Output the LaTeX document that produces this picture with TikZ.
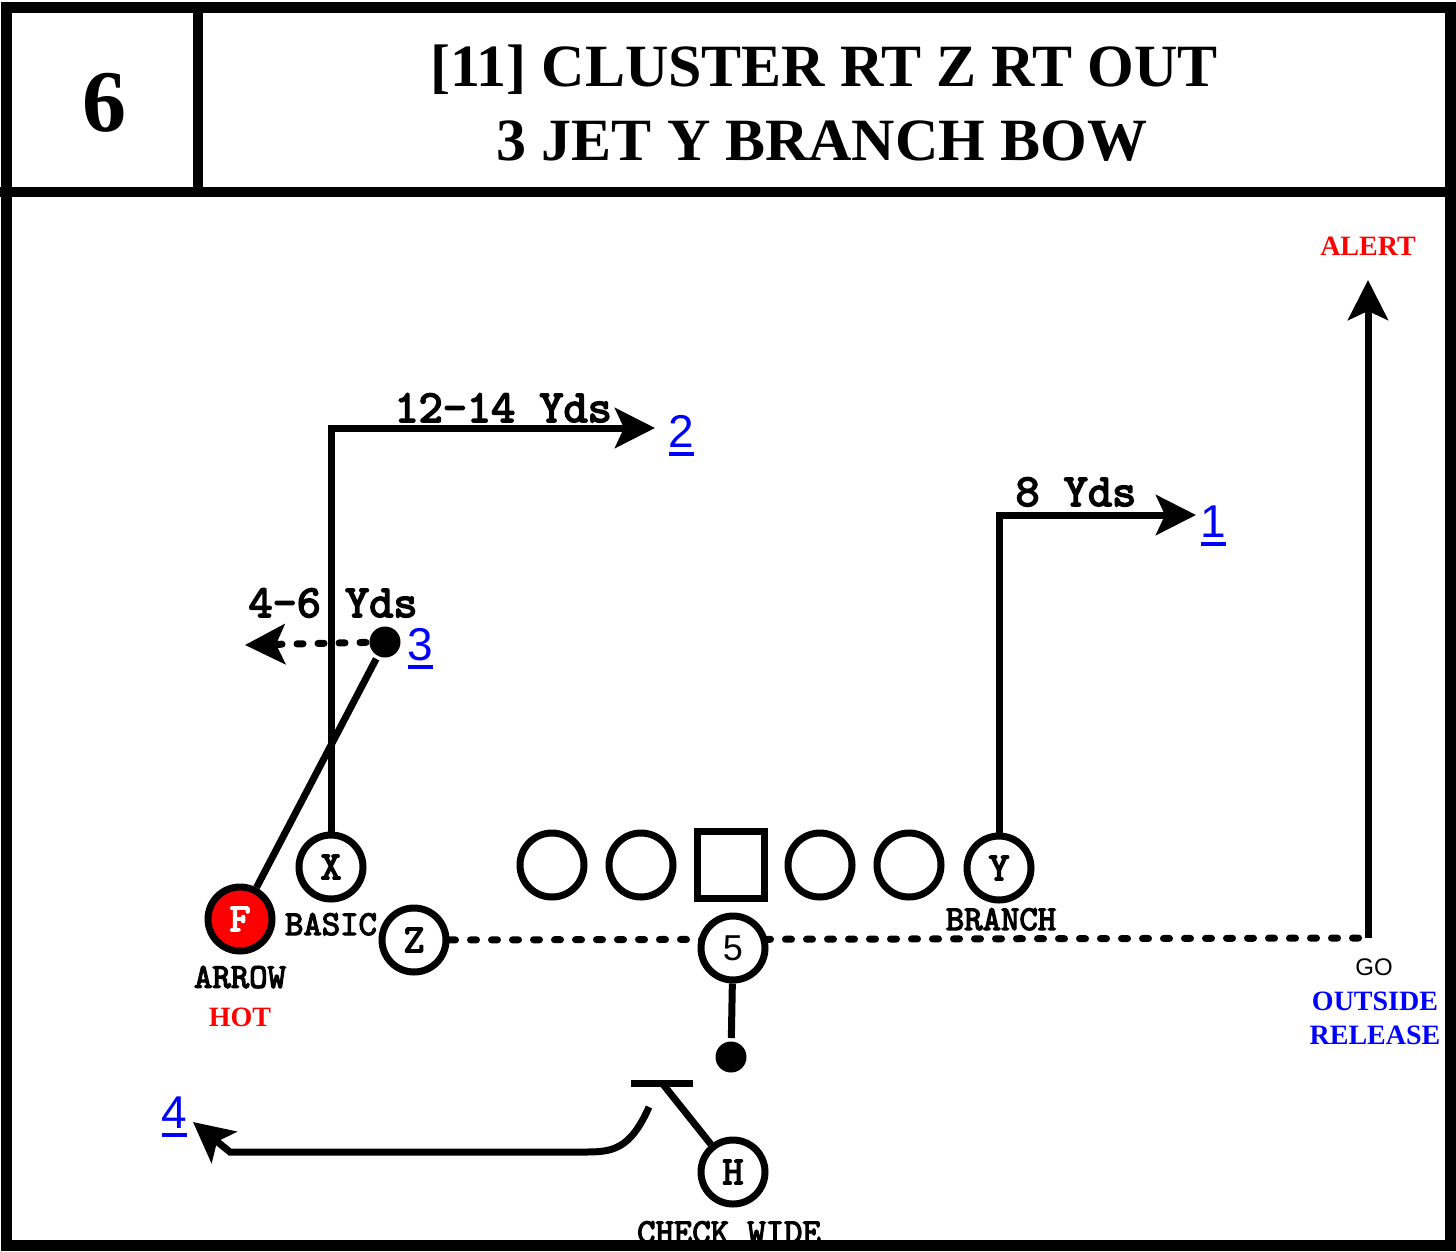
\documentclass[tikz,border=0pt]{standalone}
\usepackage{fontspec}
\setmainfont{Liberation Serif}
\setsansfont{Liberation Sans}
\newfontfamily\playfont{lmmono10-regular.otf}[FakeBold=3.5]
\usetikzlibrary{positioning,arrows.meta,backgrounds}
\tikzset{every picture/.style={line width=7pt}}
\newcommand{\ulnum}[1]{\setbox0\hbox{#1}\rlap{\rule[-9pt]{\wd0}{4.5pt}}\box0}
\tikzset{
  player/.style={draw, circle, fill=white, minimum size=64pt, inner sep=0pt, font=\playfont\fontsize{40}{40}\selectfont},
  ballspot/.style={circle, fill=black, minimum size=31pt, inner sep=0pt},
  route/.style={line width=7pt},
  motion/.style={line width=7pt, dash pattern=on 6pt off 15pt, line cap=round},
  runarrow/.style={-{Stealth[length=40pt,width=40pt,inset=9pt]}},
  ydslbl/.style={font=\playfont\fontsize{46}{46}\selectfont, inner sep=0pt, anchor=base west},
  callname/.style={font=\playfont\fontsize{35}{35}\selectfont, inner sep=0pt},
  readnum/.style={font=\sffamily\fontsize{46}{46}\selectfont, text=blue, inner sep=0pt, anchor=base west},
  cue/.style={font=\bfseries\fontsize{28}{28}\selectfont, inner sep=0pt},
}
\begin{document}
\begin{tikzpicture}[x=1pt, y=-1pt]
\useasboundingbox (0,0) rectangle (1456,1251);
    % Header
\node[font=\bfseries\fontsize{88}{88}\selectfont, anchor=base] (playno) at (104,131) {6};
\node[font=\bfseries\fontsize{60}{60}\selectfont, anchor=base] (callA) at (824,86) {[11] CLUSTER RT Z RT OUT};
\node[font=\bfseries\fontsize{60}{60}\selectfont, anchor=base] (callB) at (822,160) {3 JET Y BRANCH BOW};

    % Formation
\node[player, fill=red, text=white] (F) at (240,919) {F};
\node[player] (X) at (331,867) {X};
\node[player] (Z) at (414,940) {Z};
\node[player] (LT) at (552,865) {};
\node[player] (LG) at (641,865) {};
\node[draw, rectangle, fill=white, minimum size=67pt, inner sep=0pt] (C) at (731,865) {};
\node[player] (RG) at (820,865) {};
\node[player] (RT) at (909,865) {};
\node[player] (Y) at (999,868) {Y};
\node[player, font=\sffamily\fontsize{36}{36}\selectfont] (Q) at (733,948) {5};
\node[player] (H) at (733,1172) {H};

    % Route points
\coordinate (xbreak) at (331,428);
\coordinate (xend) at (655,428);
\node[ballspot] (fspot) at (385,642) {};
\coordinate (fend) at (245,645);
\coordinate (ybreak) at (999,515);
\coordinate (yend) at (1196,515);
\coordinate (zturn) at (1368,938);
\coordinate (zgo) at (1368,280);
\node[ballspot] (snap) at (731,1057) {};
\coordinate (hblock) at (662,1083);
\coordinate (hcut) at (649,1107);
\coordinate (hbend) at (585,1152);
\coordinate (hleft) at (230,1152);
\coordinate (hend) at (193,1122);

    % Routes
\draw[route, runarrow] (X) -- (xbreak) -- (xend);
\draw[route] (F) -- (fspot);
\draw[motion, runarrow] (fspot) -- (fend);
\draw[route, runarrow] (Y) -- (ybreak) -- (yend);
\begin{scope}[on background layer]
\draw[motion] (Z) -- (zturn);
\end{scope}
\draw[route, runarrow] (zturn) -- (zgo);
\draw[route] (Q) -- (snap);
\draw[route] (H) -- (hblock);
\draw[route] ([xshift=-31pt]hblock) -- ([xshift=31pt]hblock);
\draw[route, runarrow] (hcut) .. controls (630,1150) and (612,1152) .. (hbend) -- (hleft) -- (hend);

    % Labels
\node[ydslbl] (xyds) at (391,422) {12-14 Yds};
\node[readnum] (read2) at (665,447) {\ulnum{2}};
\node[ydslbl] (fyds) at (245,617) {4-6 Yds};
\node[readnum] (read3) at (404,660) {\ulnum{3}};
\node[ydslbl] (yyds) at (1012,506) {8 Yds};
\node[readnum] (read1) at (1197,537) {\ulnum{1}};
\node[readnum] (read4) at (158,1128) {\ulnum{4}};
\node[callname, anchor=base] (basic) at (331,935) {BASIC};
\node[callname, below=8pt of F] (arrowlbl) {ARROW};
\node[cue, text=red, below=13pt of arrowlbl] (hot) {HOT};
\node[callname, anchor=base] (branch) at (1001,930) {BRANCH};
\node[callname, anchor=base] (checkwide) at (729,1243) {CHECK WIDE};
\node[cue, text=red, above=21pt of zgo] (alert) {ALERT};
\node[font=\sffamily\fontsize{24}{24}\selectfont, anchor=base] (go) at (1374,975) {GO};
\node[cue, text=blue, anchor=base] (outside) at (1375,1010) {OUTSIDE};
\node[cue, text=blue, anchor=base] (release) at (1375,1044) {RELEASE};

    % Frame
\draw[line width=11pt] (6,7) rectangle (1450,1245.5);
\draw[line width=10pt] (0,192) -- (1456,192);
\draw[line width=10pt] (198,7) -- (198,192);
\end{tikzpicture}
\end{document}
